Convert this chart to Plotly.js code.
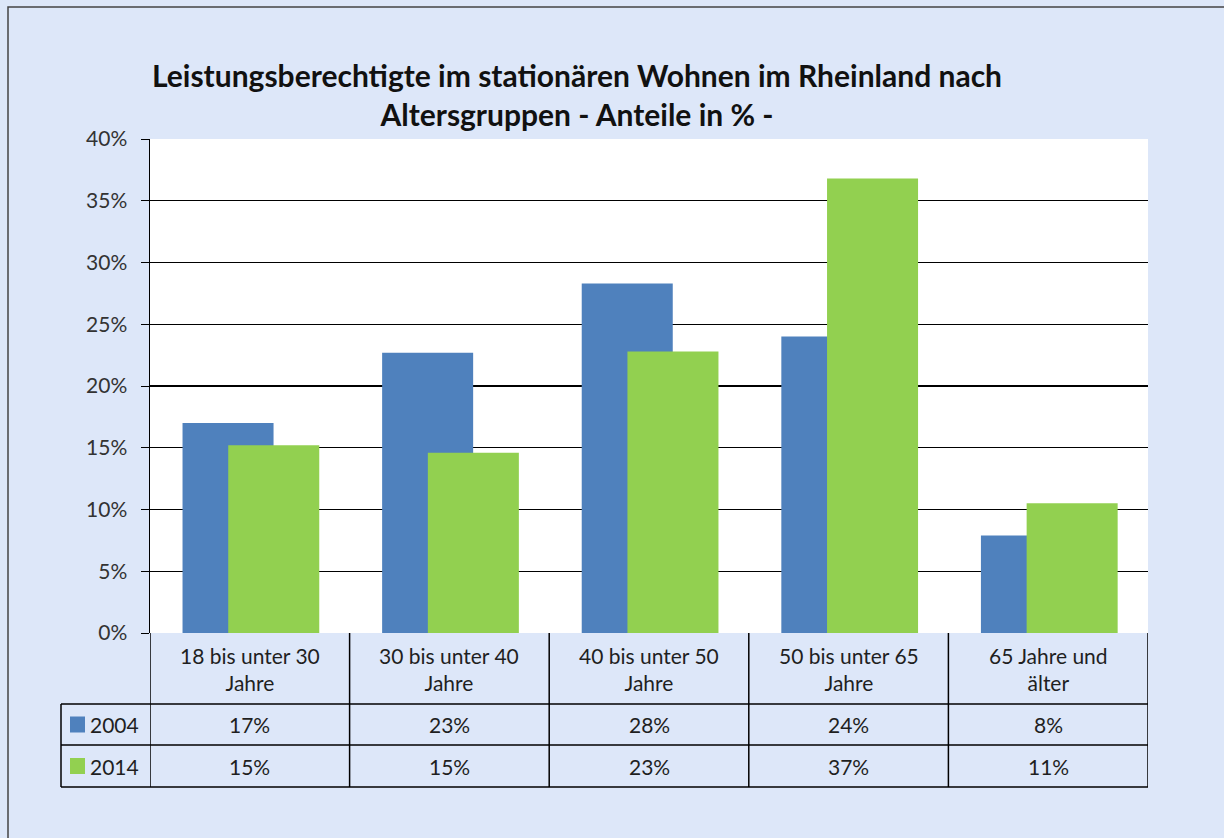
<!DOCTYPE html>
<html><head><meta charset="utf-8">
<script src="https://cdn.plot.ly/plotly-3.0.1.min.js"></script>
<style>html,body{margin:0;padding:0;background:#DDE7F9;}</style>
</head><body><div id="chart" style="width:1224px;height:838px;"></div>
<script>
const categories = ["18 bis unter 30<br>Jahre","30 bis unter 40<br>Jahre","40 bis unter 50<br>Jahre","50 bis unter 65<br>Jahre","65 Jahre und<br>älter"];
const seriesNames = ["2004","2014"];
const values2004 = [0.170, 0.227, 0.283, 0.240, 0.079];
const values2014 = [0.152, 0.146, 0.228, 0.368, 0.105];
const tableLabels2004 = ["17%","23%","28%","24%","8%"];
const tableLabels2014 = ["15%","15%","23%","37%","11%"];
const colors = ["#4F81BD","#92D050"];

const W=1224,H=838,L=150,R=76,T=139,B=205;
const pw=W-L-R, ph=H-T-B;
const px=x=>(x-L)/pw, py=y=>(H-B-y)/ph;
const FONT="Lato, 'Open Sans', sans-serif";
const txt="#1f1f1f";

const xi=categories.map((c,i)=>i);
const traces=[
 {type:"bar",x:xi,y:values2004,name:seriesNames[0],marker:{color:colors[0]},width:0.456,offset:-0.337,hoverinfo:"y"},
 {type:"bar",x:xi,y:values2014,name:seriesNames[1],marker:{color:colors[1]},width:0.456,offset:-0.108,hoverinfo:"y"}
];

const shapes=[], ann=[];
const n=categories.length;
const yHead=py(704), yR1=py(745), yR2=py(787);
const xLeg=px(61);
for(let i=0;i<=n;i++){
  shapes.push({type:"line",xref:"x",yref:"paper",x0:i-0.5,x1:i-0.5,y0:0,y1:yR2,line:{color:"#000",width:1.5}});
}
shapes.push({type:"line",xref:"paper",yref:"paper",x0:xLeg,x1:xLeg,y0:yHead,y1:yR2,line:{color:"#000",width:1.5}});
[yHead,yR1,yR2].forEach(y=>shapes.push({type:"line",xref:"paper",yref:"paper",x0:xLeg,x1:1,y0:y,y1:y,line:{color:"#000",width:1.5}}));
shapes.push({type:"rect",xref:"paper",yref:"paper",x0:px(8),x1:px(1240),y0:py(860),y1:py(7),line:{color:"#444",width:1.5},layer:"below"});

const TF=21;
categories.forEach((c,i)=>{
  ann.push({xref:"x",yref:"paper",x:i,y:(0+yHead)/2,text:c,showarrow:false,font:{family:FONT,size:TF,color:txt},align:"center",yanchor:"middle"});
  ann.push({xref:"x",yref:"paper",x:i,y:(yHead+yR1)/2,text:tableLabels2004[i],showarrow:false,font:{family:FONT,size:TF,color:txt},yanchor:"middle"});
  ann.push({xref:"x",yref:"paper",x:i,y:(yR1+yR2)/2,text:tableLabels2014[i],showarrow:false,font:{family:FONT,size:TF,color:txt},yanchor:"middle"});
});
[[yHead,yR1],[yR1,yR2]].forEach((r,k)=>{
  const ym=(r[0]+r[1])/2;
  shapes.push({type:"rect",xref:"paper",yref:"paper",x0:px(70),x1:px(85),y0:ym-8/ph,y1:ym+8/ph,fillcolor:colors[k],line:{width:0}});
  ann.push({xref:"paper",yref:"paper",x:px(88),y:ym,text:seriesNames[k],showarrow:false,xanchor:"left",yanchor:"middle",font:{family:FONT,size:TF,color:txt}});
});

const layout={
 width:W,height:H,margin:{l:L,r:R,t:T,b:B,pad:0},
 paper_bgcolor:"#DDE7F9",plot_bgcolor:"#FFFFFF",
 showlegend:false,barmode:"overlay",
 title:{text:"<b>Leistungsberechtigte im stationären Wohnen im Rheinland nach<br>Altersgruppen - Anteile in % -</b>",
   font:{family:FONT,size:30,color:"#111"},xref:"container",yref:"container",x:577/W,y:1-87/H,xanchor:"center",yanchor:"middle"},
 xaxis:{type:"linear",range:[-0.5,n-0.5],showticklabels:false,showgrid:false,zeroline:false,showline:false,fixedrange:true},
 yaxis:{range:[0,0.4],dtick:0.05,tickformat:".0%",showgrid:true,gridcolor:"#000",gridwidth:1.2,
   showline:true,linecolor:"#000",linewidth:1.5,ticks:"outside",ticklen:8,tickcolor:"#000",zeroline:false,
   ticklabelstandoff:9,tickfont:{family:FONT,size:21,color:"#333"},fixedrange:true},
 shapes:shapes,annotations:ann,font:{family:FONT}
};
Plotly.newPlot("chart",traces,layout,{displayModeBar:false,staticPlot:true});
</script></body></html>
